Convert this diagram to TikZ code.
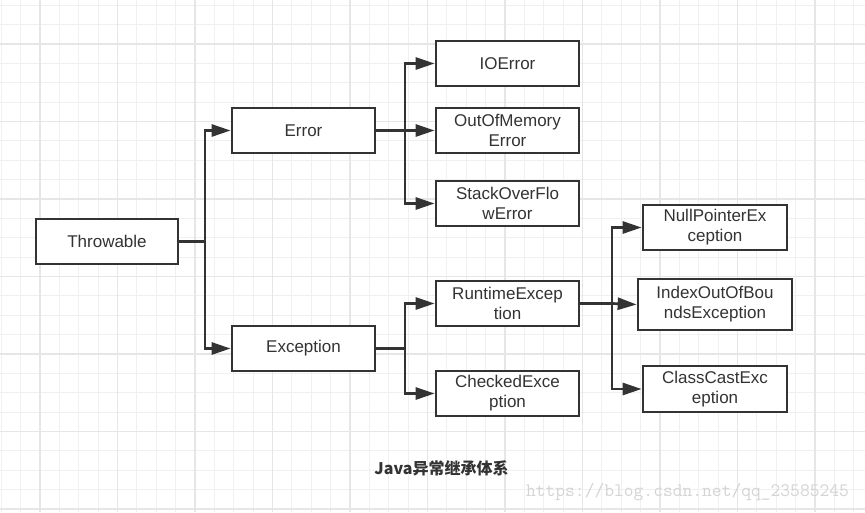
\documentclass[tikz,border=0pt]{standalone}
\usepackage{fontspec}
\setmainfont{Liberation Sans}
\newfontfamily\cjk{Noto Sans CJK SC}
\usetikzlibrary{arrows.meta}
\definecolor{ink}{HTML}{333333}
\definecolor{gridminor}{HTML}{F0F0F0}
\definecolor{gridmajor}{HTML}{E6E6E6}
\definecolor{mark}{HTML}{D4D4D4}
\begin{document}
\begin{tikzpicture}[x=1pt, y=-1pt,
    box/.style={draw=ink, line width=2.7pt, fill=white, text=ink, align=center,
        minimum width=143pt, minimum height=45pt, inner sep=0pt,
        font=\fontsize{17}{20}\selectfont},
    link/.style={draw=ink, line width=2.7pt},
    arr/.style={link, -{Triangle[length=19pt, width=12pt]}}]
    \useasboundingbox (0,0) rectangle (865,512);
    \fill[white] (0,0) rectangle (865,512);

    % grid
    \foreach \i in {0,...,44} \draw[gridminor, line width=1pt] ({1.25+\i*19.375},0) -- ++(0,512);
    \foreach \j in {0,...,26} \draw[gridminor, line width=1pt] (0,{5.25+\j*19.375}) -- ++(865,0);
    \foreach \i in {0,...,10} \draw[gridmajor, line width=1.5pt] ({40+\i*77.5},0) -- ++(0,512);
    \foreach \j in {0,...,6} \draw[gridmajor, line width=1.5pt] (0,{44+\j*77.5}) -- ++(865,0);

    \coordinate (j1) at (205,241.5);
    \coordinate (j2) at (405,130.5);
    \coordinate (j3) at (405,348.5);
    \coordinate (j4) at (612,303.5);

    \node[box, minimum width=142pt] (thr) at (107,241.5) {Throwable};
    \node[box] (err) at (303.5,130.5) {Error};
    \node[box] (exc) at (303.5,348.5) {Exception};

    \node[box] (io) at (507.5,63.5) {IOError};
    \node[box] (oom) at (507.5,130.5) {OutOfMemory\\Error};
    \node[box] (sof) at (507.5,203.5) {StackOverFlo\\wError};

    \node[box] (rt) at (507.5,303.5) {RuntimeExcep\\tion};
    \node[box] (ce) at (507.5,393.5) {CheckedExce\\ption};

    \node[box, minimum width=144pt] (np) at (715,227.5) {NullPointerEx\\ception};
    \node[box, minimum width=154pt, minimum height=51pt] (ioob) at (715,304.5) {IndexOutOfBou\\ndsException};
    \node[box, minimum width=144pt, minimum height=46pt] (cce) at (715,389) {ClassCastExc\\eption};

    \draw[link] (thr.east) -- (j1);
    \draw[arr] (j1) |- (err.west);
    \draw[arr] (j1) |- (exc.west);

    \draw[link] (err.east) -- (j2);
    \draw[arr] (j2) |- (io.west);
    \draw[arr] (j2) -- (oom.west);
    \draw[arr] (j2) |- (sof.west);

    \draw[link] (exc.east) -- (j3);
    \draw[arr] (j3) |- (rt.west);
    \draw[arr] (j3) |- (ce.west);

    \draw[link] (rt.east) -- (j4);
    \draw[arr] (j4) |- (np.west);
    \draw[arr] (j4) -- (ioob.west);
    \draw[arr] (j4) |- (cce.west);

    \node[text=ink, font=\cjk\bfseries\fontsize{16}{18}\selectfont] (cap) at (441.5,468) {Java异常继承体系};
    \node[text=mark, font=\ttfamily\fontsize{19}{22}\selectfont] (url) at (687.5,492) {https://blog.csdn.net/qq\_23585245};
\end{tikzpicture}
\end{document}
